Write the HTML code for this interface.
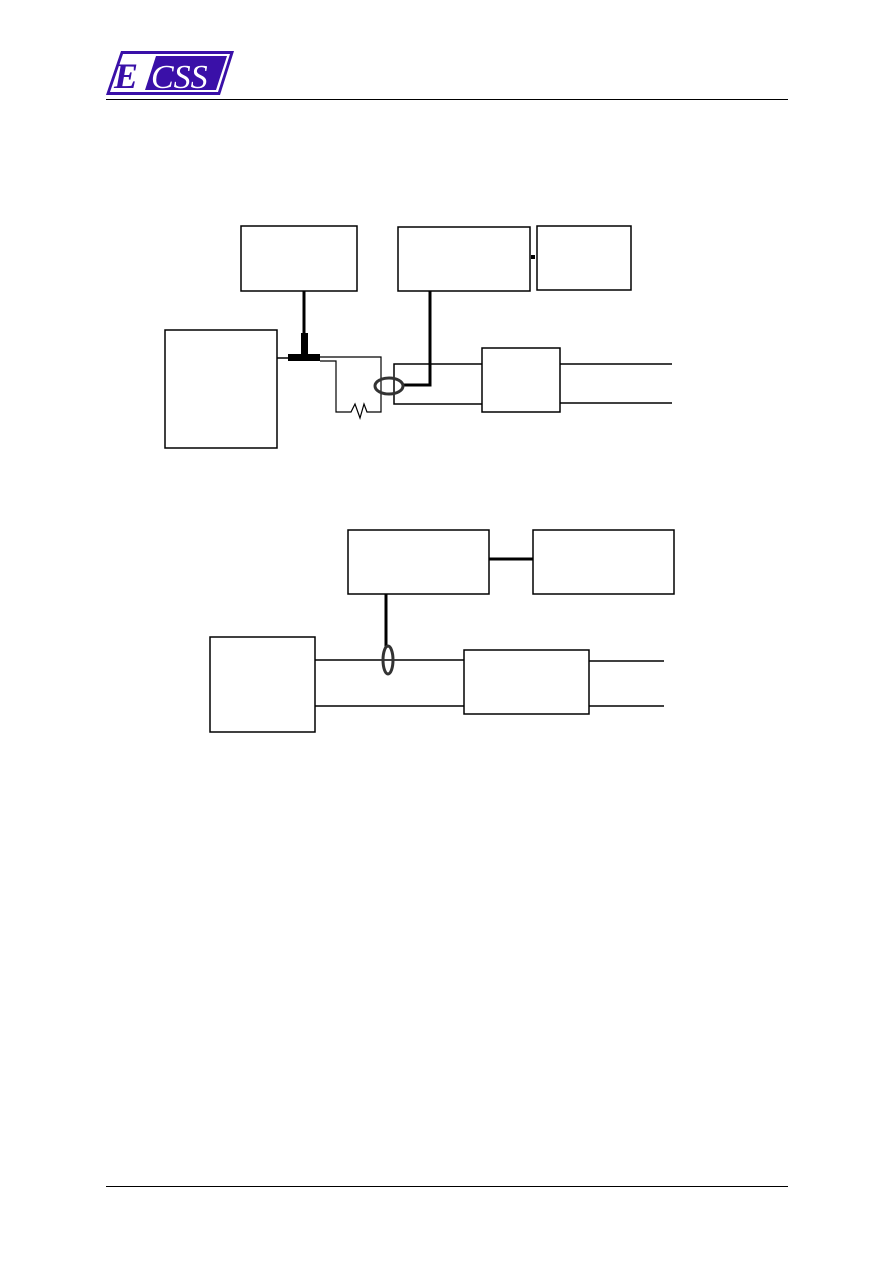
<!DOCTYPE html>
<html><head><style>
body{margin:0;background:#fff;width:893px;height:1263px;overflow:hidden}
svg{position:absolute;left:0;top:0}
</style></head><body>
<svg width="893" height="1263" viewBox="0 0 893 1263" xmlns="http://www.w3.org/2000/svg">
<!-- logo -->
<polygon points="121,51 234,51 220,95 106,95" fill="#3a10a8"/>
<polygon points="123,54 230,54 218,92 110,92" fill="#fff"/>
<polygon points="156,56 227,56 216,90 145,90" fill="#3a10a8"/>
<text x="114" y="88" font-family="Liberation Serif" font-style="italic" font-weight="bold" font-size="36" fill="#3a10a8">E</text>
<text x="151" y="88" font-family="Liberation Serif" font-style="italic" font-size="34" fill="#fff">CSS</text>
<line x1="106" y1="99.5" x2="788" y2="99.5" stroke="#000" stroke-width="1"/>
<line x1="106" y1="1186.5" x2="788" y2="1186.5" stroke="#000" stroke-width="1"/>
<g fill="none" stroke="#000" stroke-width="1.5">
<rect x="241" y="226" width="116" height="65"/>
<rect x="398" y="227" width="132" height="64"/>
<rect x="537" y="226" width="94" height="64"/>
<rect x="165" y="330" width="112" height="118"/>
<rect x="482" y="348" width="78" height="64"/>
<line x1="560" y1="364" x2="672" y2="364"/>
<line x1="560" y1="403" x2="672" y2="403"/>
<polyline points="277,358 288,358"/>
<polyline points="320,357 381,357 381,412 367,412 364,404 360,418 355,404 351,412 336,412 336,361 320,361" stroke-width="1.2"/>
<polyline points="482,364 394,364 394,404 482,404"/>
<polyline points="430,291 430,385 403,385" stroke-width="3"/>
<rect x="348" y="530" width="141" height="64"/>
<rect x="533" y="530" width="141" height="64"/>
<rect x="210" y="637" width="105" height="95"/>
<rect x="464" y="650" width="125" height="64"/>
<line x1="315" y1="660" x2="464" y2="660"/>
<line x1="315" y1="706" x2="464" y2="706"/>
<line x1="589" y1="661" x2="664" y2="661"/>
<line x1="589" y1="706" x2="664" y2="706"/>
<line x1="386" y1="594" x2="386" y2="648" stroke-width="3"/>
<line x1="489" y1="559" x2="533" y2="559" stroke-width="3"/>
</g>
<line x1="304" y1="291" x2="304" y2="335" stroke="#000" stroke-width="3"/>
<rect x="301" y="333" width="7" height="25" fill="#000"/>
<rect x="288" y="354" width="32" height="7" fill="#000"/>
<rect x="531" y="255" width="4" height="4" fill="#000"/>
<ellipse cx="389" cy="386" rx="14" ry="8" fill="none" stroke="#333" stroke-width="3"/>
<ellipse cx="388" cy="660" rx="5" ry="14" fill="none" stroke="#333" stroke-width="3"/>
</svg>
</body></html>
